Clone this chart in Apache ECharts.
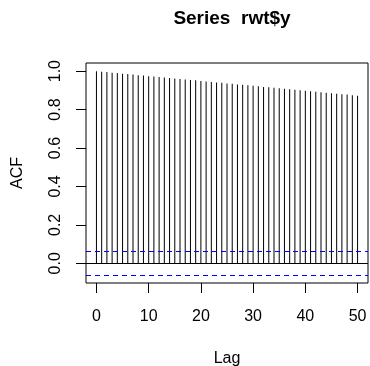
<!DOCTYPE html>
<html>
<head>
<meta charset="utf-8">
<script src="https://cdn.jsdelivr.net/npm/echarts@6/dist/echarts.min.js"></script>
<style>
html,body{margin:0;padding:0;background:#ffffff;}
#chart{width:370px;height:366px;}
</style>
</head>
<body>
<div id="chart"></div>
<script>
var titleText = 'Series  rwt$y';
var xName = 'Lag';
var yName = 'ACF';
var lags = [0,1,2,3,4,5,6,7,8,9,10,11,12,13,14,15,16,17,18,19,20,21,22,23,24,25,26,27,28,29,30,31,32,33,34,35,36,37,38,39,40,41,42,43,44,45,46,47,48,49,50];
var acfValues = [1.000,0.997,0.995,0.992,0.990,0.987,0.985,0.982,0.979,0.977,
  0.974,0.972,0.969,0.967,0.964,0.962,0.959,0.957,0.954,0.952,
  0.949,0.946,0.944,0.941,0.939,0.936,0.934,0.931,0.929,0.926,
  0.924,0.921,0.918,0.916,0.913,0.911,0.908,0.906,0.903,0.901,
  0.898,0.896,0.893,0.890,0.888,0.885,0.883,0.880,0.878,0.875,0.872];
var confLimits = [0.062, -0.062];
var zeroLine = [0];
var xTicks = [0,10,20,30,40,50];
var yTicks = [0,0.2,0.4,0.6,0.8,1.0];
var xRange = [-2, 52];
var yRange = [-0.1024, 1.0424];

var chart = echarts.init(document.getElementById('chart'), null, {renderer:'canvas'});
var font = 'Liberation Sans';
var data = lags.map(function(l,i){return [l, acfValues[i]];});

function hLineRenderer(color, dash, z){
  return function(params, api){
    var y = api.value(0);
    var p1 = api.coord([xRange[0], y]);
    var p2 = api.coord([xRange[1], y]);
    var yy = Math.round(p1[1]) + 0.5;
    return {
      type:'line',
      z2:z,
      shape:{x1:p1[0], y1:yy, x2:p2[0], y2:yy},
      style:{stroke:color, lineWidth:1, lineDash:dash, fill:null, opacity:1},
      silent:true
    };
  };
}

chart.setOption({
  animation:false,
  backgroundColor:'#ffffff',
  textStyle:{fontFamily:font},
  title:{
    text:titleText, left:227, top:4, textAlign:'center',
    textStyle:{fontFamily:font, fontWeight:'bold', fontSize:19, color:'#000'}
  },
  grid:{left:86, right:2, top:63, bottom:83, show:true, borderColor:'#000', borderWidth:1,
    backgroundColor:'transparent', outerBoundsMode:'none', containLabel:false},
  xAxis:{
    type:'value', min:xRange[0], max:xRange[1],
    name:xName, nameLocation:'middle', nameGap:68,
    nameTextStyle:{fontFamily:font, fontSize:16, color:'#000'},
    axisLine:{show:false, onZero:false},
    splitLine:{show:false},
    axisTick:{show:true, inside:false, length:10, customValues:xTicks, lineStyle:{color:'#000', width:1}},
    axisLabel:{show:true, margin:26, fontFamily:font, fontSize:16, color:'#000', customValues:xTicks,
      formatter:function(v){return String(v);}}
  },
  yAxis:{
    type:'value', min:yRange[0], max:yRange[1],
    name:yName, nameLocation:'middle', nameGap:60, nameRotate:90,
    nameTextStyle:{fontFamily:font, fontSize:16, color:'#000'},
    axisLine:{show:false, onZero:false},
    splitLine:{show:false},
    axisTick:{show:true, inside:false, length:10, customValues:yTicks, lineStyle:{color:'#000', width:1}},
    axisLabel:{show:true, rotate:90, margin:22, fontFamily:font, fontSize:16, color:'#000', customValues:yTicks,
      formatter:function(v){return v.toFixed(1);}}
  },
  series:[{
    type:'bar',
    data:data,
    barWidth:1,
    z:2,
    itemStyle:{color:'#000'}
  },{
    type:'custom',
    data:zeroLine.map(function(v){return [v];}),
    encode:{y:0},
    z:3,
    itemStyle:{color:'#000000'},
    renderItem:hLineRenderer('#000000', null, 1),
    clip:true
  },{
    type:'custom',
    data:confLimits.map(function(v){return [v];}),
    encode:{y:0},
    z:5,
    itemStyle:{color:'#0000ff'},
    renderItem:hLineRenderer('#0000ff', [5,4], 10),
    clip:true
  }]
});
</script>
</body>
</html>
